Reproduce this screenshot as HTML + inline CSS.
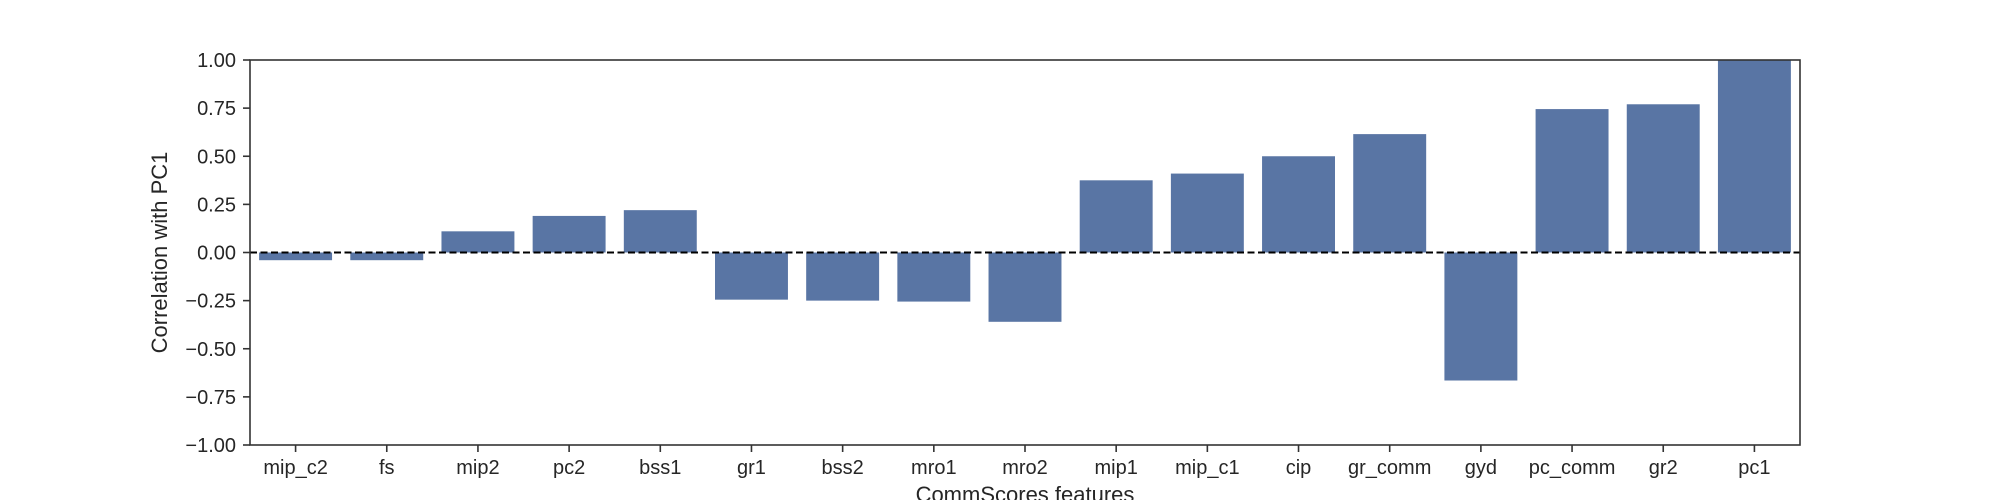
<!DOCTYPE html>
<html><head><meta charset="utf-8"><style>
body{margin:0;background:#fff;}
svg{display:block;font-family:"Liberation Sans",Arial,sans-serif;}
</style></head><body>
<svg id="chart" width="2000" height="500">
<g id="bars"></g>
<g id="axes"></g>
</svg>
<script>
const categories=["mip_c2","fs","mip2","pc2","bss1","gr1","bss2","mro1","mro2","mip1","mip_c1","cip","gr_comm","gyd","pc_comm","gr2","pc1"];
const values=[-0.04,-0.04,0.11,0.19,0.22,-0.245,-0.25,-0.255,-0.36,0.375,0.41,0.50,0.615,-0.665,0.745,0.77,1.0];
const yTicks=[-1,-0.75,-0.5,-0.25,0,0.25,0.5,0.75,1];
const yTickLabels=["\u22121.00","\u22120.75","\u22120.50","\u22120.25","0.00","0.25","0.50","0.75","1.00"];
const NS="http://www.w3.org/2000/svg";
const L=250,R=1800,T=60,B=445;
const y=v=>T+(1-v)/2*(B-T);
const slot=(R-L)/categories.length;
const x=i=>L+slot*(i+0.5);
const bw=slot*0.8;
const TC='#262626';
function mk(tag,attrs,parent){const e=document.createElementNS(NS,tag);for(const k in attrs)e.setAttribute(k,attrs[k]);parent.appendChild(e);return e;}
const bars=document.getElementById('bars'),axes=document.getElementById('axes');
values.forEach((v,i)=>{
 const r=mk('rect',{x:x(i)-bw/2,y:Math.min(y(v),y(0)),width:bw,height:Math.abs(y(v)-y(0)),fill:'#5975a4'},bars);
 
 
});
const zl=mk('line',{x1:L,x2:R,y1:y(0),y2:y(0),stroke:'#000','stroke-width':2,'stroke-dasharray':'7,3.5'},axes);


const fr=mk('rect',{x:L,y:T,width:R-L,height:B-T,fill:'none',stroke:'#333','stroke-width':1.6},axes);


yTicks.forEach((t,i)=>{
 mk('line',{x1:L-7,x2:L,y1:y(t),y2:y(t),stroke:'#333','stroke-width':1.6},axes);
 const tx=mk('text',{x:L-14,y:y(t)+7,'text-anchor':'end','font-size':20,fill:TC},axes);
 tx.textContent=yTickLabels[i];
 
 
});
categories.forEach((c,i)=>{
 mk('line',{x1:x(i),x2:x(i),y1:B,y2:B+7,stroke:'#333','stroke-width':1.6},axes);
 const tx=mk('text',{x:x(i),y:B+29,'text-anchor':'middle','font-size':20,fill:TC},axes);
 tx.textContent=c;
 
 
});
const xt=mk('text',{x:(L+R)/2,y:502,'text-anchor':'middle','font-size':22,fill:TC},axes);
xt.textContent='CommScores features';


const cy=(T+B)/2;
const yt=mk('text',{x:167,y:cy,'text-anchor':'middle','font-size':22,fill:TC,transform:'rotate(-90 167 '+cy+')'},axes);
yt.textContent='Correlation with PC1';


</script>
</body></html>
